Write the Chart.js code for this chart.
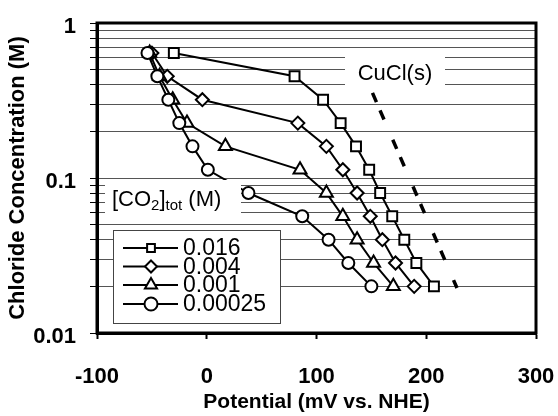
<!DOCTYPE html>
<html>
<head>
<meta charset="utf-8">
<script src="https://cdn.jsdelivr.net/npm/chart.js@4.4.0/dist/chart.umd.min.js"></script>
<style>
    html, body { margin: 0; padding: 0; background: #fff; }
    #wrap { width: 558px; height: 416px; }
</style>
</head>
<body>
<div id="wrap"><canvas id="grafico" width="558" height="416"></canvas></div>
<script>
// concentração de cloreto (M) - igual para as quatro séries
const cloreto = [0.64, 0.453, 0.32, 0.226, 0.16, 0.113, 0.08, 0.0566, 0.04, 0.0283, 0.02];

// potencial (mV vs. NHE) para cada [CO2]tot
const pot016 = [-30, 80, 106, 122, 136, 148, 158, 169, 180, 191, 207];
const pot004 = [-50, -36, -4, 83, 109, 124, 137, 149, 160, 172, 189];
const pot001 = [-52, -43, -31, -18, 17, 85, 109, 124, 137, 152, 170];
const pot00025 = [-54, -45, -35, -25, -13, 1, 38, 87, 111, 129, 150];

const serieNomes = ['0.016', '0.004', '0.001', '0.00025'];
const serieMarcas = ['rect', 'rectRot', 'triangle', 'circle'];

// linha tracejada do limite CuCl(s)
const cuclPot = [151, 228];
const cuclCl = [0.354, 0.0195];

// ticks
const yTicks = [0.01, 0.02, 0.03, 0.04, 0.05, 0.06, 0.07, 0.08, 0.09,
                0.1, 0.2, 0.3, 0.4, 0.5, 0.6, 0.7, 0.8, 0.9, 1];
const yRotulos = [1, 0.1, 0.01];
const xTicks = [-100, 0, 100, 200, 300];

const FONTE = '"Liberation Sans", Arial, Helvetica, sans-serif';
const raios = { rect: 7, rectRot: 6.5, triangle: 7.5, circle: 6 };

function pontos(xs, ys) {
    return xs.map((x, i) => ({ x: x, y: ys[i] }));
}

const series = [pot016, pot004, pot001, pot00025];
const datasets = series.map((p, i) => ({
    label: serieNomes[i],
    data: pontos(p, cloreto),
    borderColor: '#000',
    borderWidth: 2,
    pointStyle: serieMarcas[i],
    pointRadius: raios[serieMarcas[i]],
    pointBackgroundColor: '#fff',
    pointBorderColor: '#000',
    pointBorderWidth: 2,
    tension: 0,
    order: 4 - i
}));

datasets.push({
    label: 'CuCl(s)',
    data: pontos(cuclPot, cuclCl),
    borderColor: '#000',
    borderWidth: 3.5,
    borderDash: [10, 9, 10, 22],
    pointRadius: 0,
    order: 5
});

// desenha um marcador igual ao do Chart.js (para a legenda)
function desenhaMarca(ctx, estilo, x, y, r) {
    ctx.beginPath();
    if (estilo === 'rect') {
        const s = Math.SQRT1_2 * r;
        ctx.rect(x - s, y - s, 2 * s, 2 * s);
    } else if (estilo === 'rectRot') {
        ctx.moveTo(x, y - r);
        ctx.lineTo(x + r, y);
        ctx.lineTo(x, y + r);
        ctx.lineTo(x - r, y);
        ctx.closePath();
    } else if (estilo === 'triangle') {
        const a = 2 * Math.PI / 3;
        ctx.moveTo(x, y - r);
        ctx.lineTo(x + Math.sin(a) * r, y - Math.cos(a) * r);
        ctx.lineTo(x + Math.sin(2 * a) * r, y - Math.cos(2 * a) * r);
        ctx.closePath();
    } else {
        ctx.arc(x, y, r, 0, Math.PI * 2);
    }
    ctx.fillStyle = '#fff';
    ctx.fill();
    ctx.lineWidth = 2;
    ctx.strokeStyle = '#000';
    ctx.stroke();
}

const rotulosPlugin = {
    id: 'rotulos',
    afterDatasetsDraw(chart) {
        const ctx = chart.ctx;
        const a = chart.chartArea;
        ctx.save();

        // caixas brancas por cima das linhas de grade
        ctx.fillStyle = '#fff';
        ctx.fillRect(345, 50, 100, 42);
        ctx.fillRect(105, 180, 136, 43);
        ctx.fillRect(113, 230, 168, 94);

        // CuCl(s)
        ctx.fillStyle = '#000';
        ctx.font = '22px ' + FONTE;
        ctx.textAlign = 'center';
        ctx.textBaseline = 'middle';
        ctx.fillText('CuCl(s)', 395, 74);

        // [CO2]tot (M)
        ctx.textAlign = 'left';
        ctx.textBaseline = 'alphabetic';
        let x = 112;
        const yb = 206;
        const partes = [['[CO', 22, 0], ['2', 15, 4], [']', 22, 0], ['tot', 15, 4], [' (M)', 22, 0]];
        partes.forEach(p => {
            ctx.font = p[1] + 'px ' + FONTE;
            ctx.fillText(p[0], x, yb + p[2]);
            x += ctx.measureText(p[0]).width;
        });

        // legenda
        ctx.strokeStyle = '#444';
        ctx.lineWidth = 1;
        ctx.strokeRect(113.5, 230.5, 167, 93);
        const linhasY = [248, 266.5, 285, 304];
        const raiosLeg = { rect: 5.5, rectRot: 6, triangle: 7, circle: 6.5 };
        serieNomes.forEach((nome, i) => {
            const yy = linhasY[i];
            ctx.beginPath();
            ctx.moveTo(123, yy);
            ctx.lineTo(178, yy);
            ctx.lineWidth = 2;
            ctx.strokeStyle = '#000';
            ctx.stroke();
            desenhaMarca(ctx, serieMarcas[i], 151, yy, raiosLeg[serieMarcas[i]]);
            ctx.fillStyle = '#000';
            ctx.font = '23px ' + FONTE;
            ctx.textBaseline = 'middle';
            ctx.fillText(nome, 183, yy + 1);
        });

        // moldura da área do gráfico
        ctx.strokeStyle = '#000';
        ctx.lineWidth = 3;
        ctx.strokeRect(a.left, a.top, a.right - a.left, a.bottom - a.top);
        ctx.restore();
    }
};

new Chart(document.getElementById('grafico'), {
    type: 'line',
    data: { datasets: datasets },
    options: {
        responsive: false,
        animation: false,
        events: [],
        layout: { padding: { left: 0, top: 23, right: 22, bottom: 0 } },
        plugins: {
            legend: { display: false },
            tooltip: { enabled: false }
        },
        scales: {
            x: {
                type: 'linear',
                min: -100,
                max: 300,
                afterBuildTicks: s => { s.ticks = xTicks.map(v => ({ value: v })); },
                afterFit: s => {
                    s.height = 83;
                    s.paddingLeft = 0; s.paddingRight = 0;
                },
                grid: { drawOnChartArea: false, drawTicks: true, tickLength: 6, tickColor: '#000', tickWidth: 2 },
                border: { display: true, color: '#000', width: 3 },
                ticks: {
                    autoSkip: false,
                    maxRotation: 0,
                    padding: 25,
                    color: '#000',
                    font: { family: FONTE, size: 22, weight: 'bold' },
                    callback: v => String(v)
                },
                title: {
                    display: true,
                    text: 'Potential (mV vs. NHE)',
                    color: '#000',
                    font: { family: FONTE, size: 21, weight: 'bold' },
                    padding: { top: 0, bottom: 1 }
                }
            },
            y: {
                type: 'logarithmic',
                min: 0.01,
                max: 1,
                afterBuildTicks: s => { s.ticks = yTicks.map(v => ({ value: v })); },
                afterFit: s => {
                    s.width = 97;
                    s.paddingTop = 0; s.paddingBottom = 0;
                },
                grid: { color: '#555', lineWidth: 1, drawTicks: true, tickLength: 7, tickColor: '#000', tickWidth: 1 },
                border: { display: true, color: '#000', width: 3 },
                ticks: {
                    autoSkip: false,
                    padding: 14,
                    labelOffset: 4,
                    color: '#000',
                    font: { family: FONTE, size: 22, weight: 'bold' },
                    callback: v => yRotulos.some(r => Math.abs(r - v) < 1e-9) ? String(v) : ''
                },
                title: {
                    display: true,
                    text: 'Chloride Concentration (M)',
                    color: '#000',
                    font: { family: FONTE, size: 22, weight: 'bold' },
                    padding: { top: 5, bottom: 0 }
                }
            }
        }
    },
    plugins: [rotulosPlugin]
});
</script>
</body>
</html>
